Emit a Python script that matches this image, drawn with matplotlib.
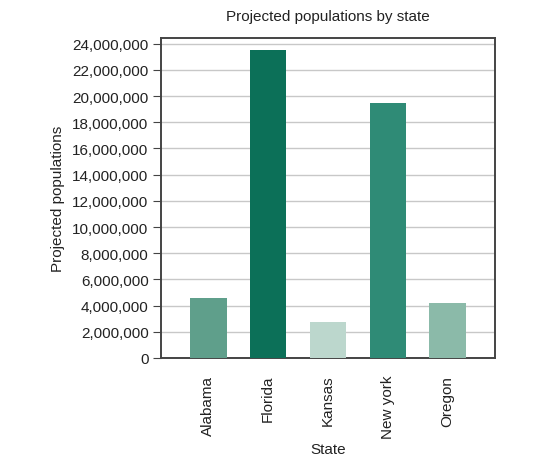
import numpy as np
import matplotlib.pyplot as plt
from matplotlib.ticker import FuncFormatter

states = ['Alabama', 'Florida', 'Kansas', 'New york', 'Oregon']
populations = [4610000, 23540000, 2770000, 19460000, 4180000]
bar_colors = ['#5f9f8b', '#0c7058', '#bcd7cd', '#2f8b76', '#8bbaa9']

plt.rcParams['font.family'] = ['Liberation Sans', 'DejaVu Sans']

fig = plt.figure(figsize=(5.41, 4.60), dpi=100)
ax = fig.add_axes([0.2976, 0.2196, 0.6174, 0.6957])

x = np.arange(len(states))
ax.bar(x, populations, width=0.61, color=bar_colors, zorder=3)

ax.set_xlim(-0.79, 4.79)
ax.set_ylim(0, 24440000)
ax.set_yticks(np.arange(0, 24000001, 2000000))
ax.yaxis.set_major_formatter(FuncFormatter(lambda v, p: f'{int(v):,}'))
ax.grid(axis='y', color='#c8c8c8', linewidth=1.0, zorder=0)

ax.set_xticks(x)
ax.set_xticklabels(states, rotation=90, fontsize=11, color='#222222')
ax.tick_params(axis='x', length=0, pad=12)
ax.tick_params(axis='y', length=6, width=0.8, color='#444444', labelsize=11,
               labelcolor='#222222', pad=3)

for s in ax.spines.values():
    s.set_color('#444444')
    s.set_linewidth(1.4)

ax.set_title('Projected populations by state', fontsize=11, color='#222222', pad=13)
ax.set_ylabel('Projected populations', fontsize=11, color='#222222', labelpad=5)
ax.set_xlabel('State', fontsize=11, color='#222222', labelpad=3)

fig.savefig('out.png', dpi=100)
